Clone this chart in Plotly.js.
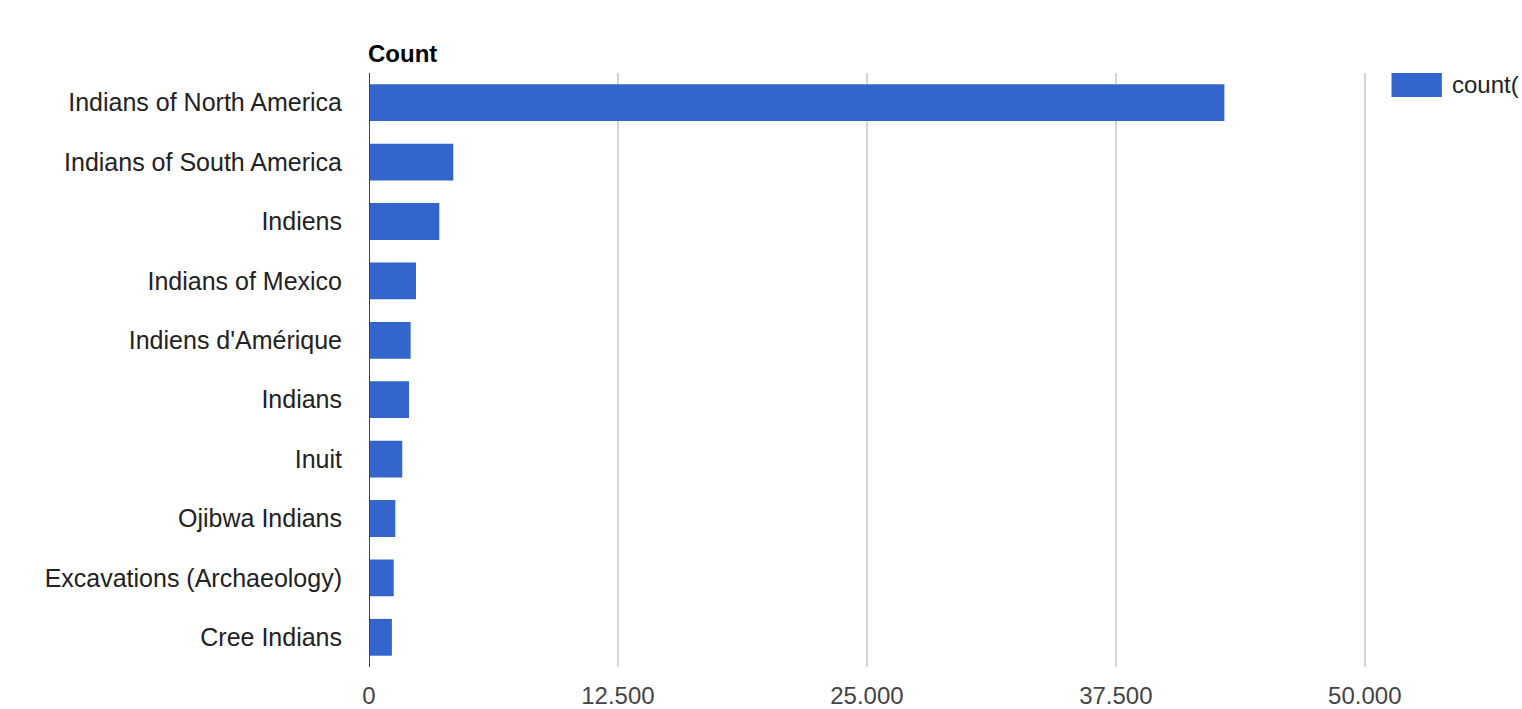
<!DOCTYPE html>
<html>
<head>
<meta charset="utf-8">
<script src="https://cdn.plot.ly/plotly-3.0.1.min.js"></script>
<style>html,body{margin:0;padding:0;background:#fff;overflow:hidden}#chart{width:1522px;height:709px}</style>
</head>
<body>
<div id="chart"></div>
<script>
const categories = ["Indians of North America","Indians of South America","Indiens","Indians of Mexico","Indiens d'Amérique","Indians","Inuit","Ojibwa Indians","Excavations (Archaeology)","Cree Indians"];
const counts = [42950, 4230, 3530, 2360, 2090, 2010, 1670, 1320, 1240, 1150];
const tickValues = [0, 12500, 25000, 37500, 50000];
const seriesName = "count(";
const axisTitle = "Count";

const trace = {
  type: 'bar', orientation: 'h',
  y: categories, x: counts, name: seriesName,
  marker: {color: '#3366cc'},
  hoverinfo: 'x+y', showlegend: false
};

const layout = {
  width: 1522, height: 709,
  margin: {l: 369, r: 156, t: 73, b: 42, pad: 0},
  paper_bgcolor: '#fff', plot_bgcolor: '#fff',
  separators: ',.',
  bargap: 0.38,
  font: {family: 'Liberation Sans, Arial, sans-serif', size: 24, color: '#222'},
  xaxis: {
    range: [0, 50060], tickvals: tickValues, tickformat: ',d',
    showgrid: true, gridcolor: '#d6d6d6', gridwidth: 1.5,
    zeroline: false, showline: false, ticks: '',
    tickfont: {size: 24, color: '#444'}, ticklabelstandoff: 12, fixedrange: true
  },
  yaxis: {
    autorange: 'reversed', type: 'category', ticks: '',
    showline: false, zeroline: false, showgrid: false,
    tickfont: {size: 25, color: '#222'}, ticklabelstandoff: 26, fixedrange: true
  },
  shapes: [
    {type: 'line', xref: 'x', yref: 'paper', x0: 0, x1: 0, y0: 0, y1: 1, line: {color: '#444', width: 2}},
    {type: 'rect', xref: 'paper', yref: 'paper', x0: 1.0256, x1: 1.0761, y0: 1.0, y1: 0.9596, line: {width: 0}, fillcolor: '#3366cc'}
  ],
  annotations: [
    {text: '<b>' + axisTitle + '</b>', xref: 'paper', yref: 'paper', x: 0, y: 1, xanchor: 'left', yanchor: 'bottom', xshift: -3, yshift: 4, showarrow: false, font: {size: 24, color: '#000'}},
    {text: seriesName, xref: 'paper', yref: 'paper', x: 1.0842, y: 0.9798, xanchor: 'left', yanchor: 'middle', showarrow: false, font: {size: 24, color: '#222'}}
  ]
};

Plotly.newPlot('chart', [trace], layout, {displayModeBar: false, responsive: false});
</script>
</body>
</html>
